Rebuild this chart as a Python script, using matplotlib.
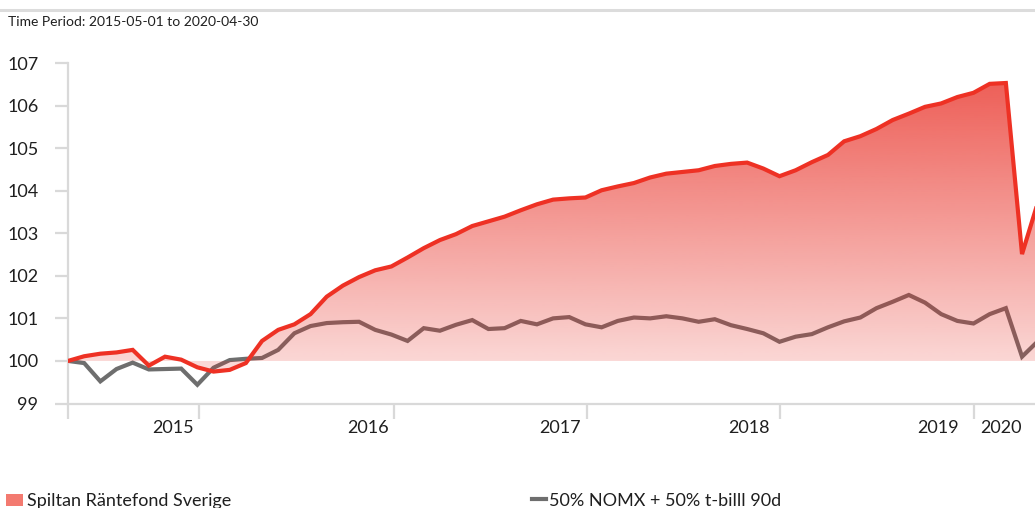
import matplotlib
matplotlib.use("Agg")
import matplotlib.pyplot as plt
import numpy as np
from matplotlib.path import Path
from matplotlib.patches import Rectangle
from matplotlib.lines import Line2D
import matplotlib.transforms as mtransforms


TITLE = "Time Period: 2015-05-01 to 2020-04-30"
FUND_NAME = "Spiltan Räntefond Sverige"
BENCH_NAME = "50% NOMX + 50% t-billl 90d"

# monthly values, 2015-04-30 .. 2020-04-30
FUND = [
    100.0, 100.11, 100.17, 100.2, 100.26, 99.89, 100.1, 100.03, 99.85, 99.75,
    99.79, 99.95, 100.47, 100.73, 100.86, 101.1, 101.51, 101.77, 101.97, 102.13,
    102.22, 102.43, 102.65, 102.84, 102.98, 103.17, 103.28, 103.39, 103.54, 103.68,
    103.79, 103.82, 103.84, 104.01, 104.10, 104.18, 104.31, 104.40, 104.44, 104.48,
    104.58, 104.63, 104.66, 104.52, 104.34, 104.48, 104.67, 104.84, 105.16, 105.28,
    105.45, 105.66, 105.81, 105.97, 106.05, 106.20, 106.30, 106.51, 106.53, 102.51,
    103.75,
]
BENCH = [
    100.0, 99.95, 99.52, 99.81, 99.96, 99.80, 99.81, 99.82, 99.44, 99.84,
    100.02, 100.05, 100.07, 100.26, 100.65, 100.82, 100.89, 100.91, 100.92, 100.73,
    100.62, 100.47, 100.77, 100.71, 100.85, 100.96, 100.75, 100.77, 100.94, 100.86,
    101.0, 101.03, 100.86, 100.79, 100.94, 101.02, 101.0, 101.05, 101.0, 100.92,
    100.98, 100.84, 100.75, 100.65, 100.45, 100.57, 100.63, 100.79, 100.93, 101.02,
    101.24, 101.39, 101.55, 101.37, 101.1, 100.94, 100.88, 101.1, 101.24, 100.10,
    100.47,
]
Y_TICKS = [99, 100, 101, 102, 103, 104, 105, 106, 107]
YEAR_LABELS = ["2015", "2016", "2017", "2018", "2019", "2020"]

W, H = 1035, 508
GRID = "#D9D9D9"
TEXT = "#1F1F1F"
RED = "#EE3124"
GRAY = "#6E6E6E"
FONT = "Lato"

# layout (months from start)
year_ticks = [0, 8.1, 20.16, 32.1, 44.03, 56.03]
label_pos = [6.5, 18.55, 30.4, 42.1, 53.8, 57.7]
px_per_month = 16.17


def fx(px):
    return px / W


def fy(py):
    return 1 - py / H


fig = plt.figure(figsize=(W / 100, H / 100), dpi=100)
plt.rcParams["font.family"] = [FONT, "DejaVu Sans"]

# top rule and title
fig.add_artist(Line2D([0, 1], [fy(10), fy(10)], color="#DCDCDC", linewidth=2.2))
fig.text(fx(8), fy(22), TITLE, fontsize=10, color=TEXT, va="center", ha="left")

ax_left, ax_top, ax_bottom = 68, 63, 403.5
ax = fig.add_axes([fx(ax_left), fy(ax_bottom), 1 - fx(ax_left), (ax_bottom - ax_top) / H])

x = np.arange(len(FUND))
fund = np.array(FUND)
bench = np.array(BENCH)

ax.plot(x, bench, color=GRAY, linewidth=3, zorder=1, solid_joinstyle="miter")

# gradient fill between fund and 100, semi-transparent over the benchmark
levels = np.linspace(99, 107, 400)
alpha = np.clip(0.19 + 0.085 * (levels - 100), 0.08, 1)
img = np.zeros((len(levels), 1, 4))
img[:, 0, 0] = 232 / 255
img[:, 0, 1] = 40 / 255
img[:, 0, 2] = 30 / 255
img[:, 0, 3] = alpha
im = ax.imshow(img, extent=[0, len(FUND) - 1, 99, 107], origin="lower",
               aspect="auto", zorder=2, interpolation="bilinear")
verts = list(zip(x, fund)) + [(x[-1], 100), (x[0], 100), (x[0], fund[0])]
clip = Path(verts, closed=True)
im.set_clip_path(clip, transform=ax.transData)

ax.plot(x, fund, color=RED, linewidth=3, zorder=3, solid_joinstyle="miter")

ax.set_xlim(0, (W - ax_left) / px_per_month)
ax.set_ylim(99, 107)

for side in ["top", "right"]:
    ax.spines[side].set_visible(False)
for side in ["left", "bottom"]:
    ax.spines[side].set_color(GRID)
    ax.spines[side].set_linewidth(1.6)

ax.set_yticks(Y_TICKS)
ax.set_yticklabels([str(v) for v in Y_TICKS])
ax.tick_params(axis="y", length=9.4, width=1.6, color=GRID, labelsize=13,
               labelcolor=TEXT, pad=12)
ax.set_xticks(year_ticks)
ax.set_xticklabels([])
ax.tick_params(axis="x", length=10.8, width=1.6, color=GRID)

trans = mtransforms.blended_transform_factory(ax.transData, ax.transAxes)
y_lab = (ax_bottom - 428) / (ax_bottom - ax_top)
for pos, lab in zip(label_pos, YEAR_LABELS):
    ax.text(pos, y_lab, lab, transform=trans, ha="center", va="center",
            fontsize=13, color=TEXT, clip_on=False)

# legend
fig.add_artist(Rectangle((fx(6), fy(506)), fx(17), 12 / H, facecolor="#F37A70",
                         edgecolor="none"))
fig.text(fx(27), fy(506), FUND_NAME, fontsize=13, color=TEXT, va="baseline", ha="left")
fig.add_artist(Line2D([fx(532), fx(546)], [fy(499), fy(499)], color=GRAY, linewidth=3))
fig.text(fx(549), fy(506), BENCH_NAME, fontsize=13, color=TEXT, va="baseline", ha="left")

fig.savefig("out.png", dpi=100)
